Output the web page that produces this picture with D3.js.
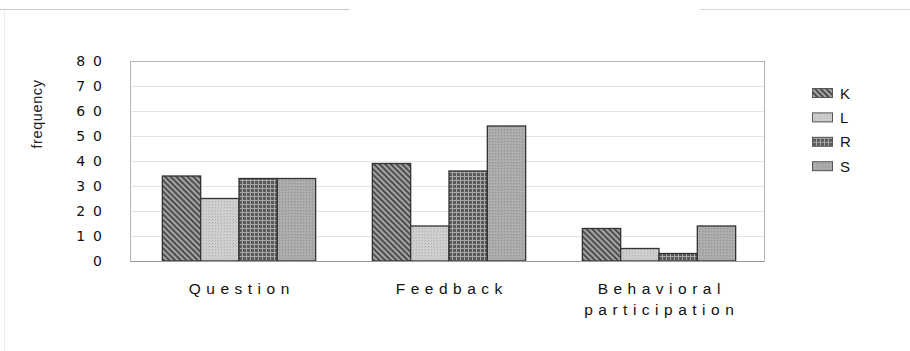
<!DOCTYPE html>
<html>
<head>
<meta charset="utf-8">
<script src="https://cdn.jsdelivr.net/npm/d3@7"></script>
<style>
  html, body { margin: 0; padding: 0; background: #fff; }
  svg { display: block; }
</style>
</head>
<body>
<svg id="chart" width="910" height="351"></svg>
<script>
// Categories, series and counts
const categories = ["Question", "Feedback", "Behavioral participation"];
const seriesNames = ["K", "L", "R", "S"];
const valuesK = [34, 39, 13];
const valuesL = [25, 14, 5];
const valuesR = [33, 36, 3];
const valuesS = [33, 54, 14];
const yTicks = [0, 10, 20, 30, 40, 50, 60, 70, 80];

const seriesValues = { K: valuesK, L: valuesL, R: valuesR, S: valuesS };
const rows = categories.map((c, i) => ({
  category: c,
  bars: seriesNames.map(s => ({ key: s, value: seriesValues[s][i] }))
}));

const svg = d3.select("#chart");
const frame = { left: 130, right: 764, top: 61, bottom: 261 };

// Fill patterns for each series
const defs = svg.append("defs");

const pK = defs.append("pattern").attr("id", "pat-K")
  .attr("patternUnits", "userSpaceOnUse").attr("width", 4).attr("height", 4)
  .attr("patternTransform", "rotate(-45)");
pK.append("rect").attr("width", 4).attr("height", 4).attr("fill", "#a4a4a4");
pK.append("rect").attr("width", 2).attr("height", 4).attr("fill", "#4e4e4e");

const pL = defs.append("pattern").attr("id", "pat-L")
  .attr("patternUnits", "userSpaceOnUse").attr("width", 3).attr("height", 3);
pL.append("rect").attr("width", 3).attr("height", 3).attr("fill", "#d0d0d0");
pL.append("rect").attr("x", 0).attr("y", 0).attr("width", 1).attr("height", 1).attr("fill", "#afafaf");
pL.append("rect").attr("x", 2).attr("y", 1).attr("width", 1).attr("height", 1).attr("fill", "#bfbfbf");

const pR = defs.append("pattern").attr("id", "pat-R")
  .attr("patternUnits", "userSpaceOnUse").attr("width", 4).attr("height", 4);
pR.append("rect").attr("width", 4).attr("height", 4).attr("fill", "#5a5a5a");
pR.append("rect").attr("width", 4).attr("height", 1).attr("fill", "#a8a8a8");
pR.append("rect").attr("width", 1).attr("height", 4).attr("fill", "#a8a8a8");

const pS = defs.append("pattern").attr("id", "pat-S")
  .attr("patternUnits", "userSpaceOnUse").attr("width", 3).attr("height", 3);
pS.append("rect").attr("width", 3).attr("height", 3).attr("fill", "#aaaaaa");
pS.append("rect").attr("x", 1).attr("y", 0).attr("width", 1).attr("height", 1).attr("fill", "#959595");
pS.append("rect").attr("x", 0).attr("y", 2).attr("width", 1).attr("height", 1).attr("fill", "#b8b8b8");

// Faint outer border of the figure
svg.append("line").attr("x1", 0).attr("x2", 350).attr("y1", 9.5).attr("y2", 9.5)
  .attr("stroke", "#c8c8c8").attr("stroke-width", 1);
svg.append("line").attr("x1", 700).attr("x2", 910).attr("y1", 9.5).attr("y2", 9.5)
  .attr("stroke", "#d8d8d8").attr("stroke-width", 1);
svg.append("line").attr("x1", 4.5).attr("x2", 4.5).attr("y1", 10).attr("y2", 351)
  .attr("stroke", "#ececec").attr("stroke-width", 1);

// Scales
const y = d3.scaleLinear().domain([0, 80]).range([frame.bottom, frame.top]);
const x0 = d3.scaleBand().domain(categories).range([134, frame.right]).padding(0);
const x1 = d3.scaleBand().domain(seriesNames)
  .range([x0.bandwidth() * 0.135, x0.bandwidth() * 0.865]).padding(0);

// Gridlines
svg.append("g").selectAll("line")
  .data(yTicks.filter(t => t > 0 && t < 80))
  .join("line")
  .attr("x1", frame.left).attr("x2", frame.right)
  .attr("y1", d => y(d) + 0.5).attr("y2", d => y(d) + 0.5)
  .attr("stroke", "#e4e4e4").attr("stroke-width", 1);

// Plot frame
svg.append("rect")
  .attr("x", frame.left + 0.5).attr("y", frame.top + 0.5)
  .attr("width", frame.right - frame.left).attr("height", frame.bottom - frame.top)
  .attr("fill", "none").attr("stroke", "#b4b4b4").attr("stroke-width", 1);

// Bars
const groups = svg.append("g").selectAll("g")
  .data(rows).join("g")
  .attr("transform", d => `translate(${x0(d.category)},0)`);

groups.selectAll("rect")
  .data(d => d.bars).join("rect")
  .attr("x", d => x1(d.key))
  .attr("y", d => y(d.value))
  .attr("width", x1.bandwidth())
  .attr("height", d => y(0) - y(d.value))
  .attr("fill", d => `url(#pat-${d.key})`)
  .attr("stroke", "#333")
  .attr("stroke-width", 1.3);

// Baseline
svg.append("line").attr("x1", frame.left).attr("x2", frame.right)
  .attr("y1", frame.bottom + 0.5).attr("y2", frame.bottom + 0.5)
  .attr("stroke", "#9a9a9a").attr("stroke-width", 1);

// Y axis labels
const yAxis = d3.axisLeft(y).tickValues(yTicks).tickSize(0).tickPadding(20);
const yg = svg.append("g").attr("transform", `translate(${frame.left},0)`).call(yAxis);
yg.select(".domain").remove();
yg.selectAll("text")
  .attr("font-family", "'DejaVu Sans', sans-serif")
  .attr("font-size", 14)
  .attr("letter-spacing", "8px")
  .attr("fill", "#111");

// Y axis title
svg.append("text")
  .attr("transform", "translate(42,114) rotate(-90)")
  .attr("text-anchor", "middle")
  .attr("font-family", "'Liberation Sans', Arial, sans-serif")
  .attr("font-size", 14.5)
  .attr("letter-spacing", "0.6px")
  .attr("fill", "#222")
  .text("frequency");

// Category labels (wrapped on spaces)
const spacing = 5.5;
const catLabels = svg.append("g").selectAll("text")
  .data(categories).join("text")
  .attr("y", 294)
  .attr("text-anchor", "middle")
  .attr("font-family", "'Liberation Sans', Arial, sans-serif")
  .attr("font-size", 15.5)
  .attr("letter-spacing", spacing + "px")
  .attr("fill", "#111");
catLabels.each(function(d) {
  const words = d.split(" ");
  const t = d3.select(this);
  const cx = x0(d) + x0.bandwidth() / 2 + spacing / 2;
  words.forEach((w, i) => {
    t.append("tspan").attr("x", cx).attr("dy", i === 0 ? 0 : 21).text(w);
  });
});

// Legend
const legend = svg.append("g").selectAll("g")
  .data(seriesNames).join("g")
  .attr("transform", (d, i) => `translate(812,${93 + i * 24.4})`);
legend.append("rect")
  .attr("x", 0.5).attr("y", -4.5).attr("width", 20).attr("height", 9)
  .attr("fill", d => `url(#pat-${d})`)
  .attr("stroke", "#555").attr("stroke-width", 1);
legend.append("text")
  .attr("x", 28).attr("y", 5.5)
  .attr("font-family", "'Liberation Sans', Arial, sans-serif")
  .attr("font-size", 15)
  .attr("fill", "#111")
  .text(d => d);
</script>
</body>
</html>
